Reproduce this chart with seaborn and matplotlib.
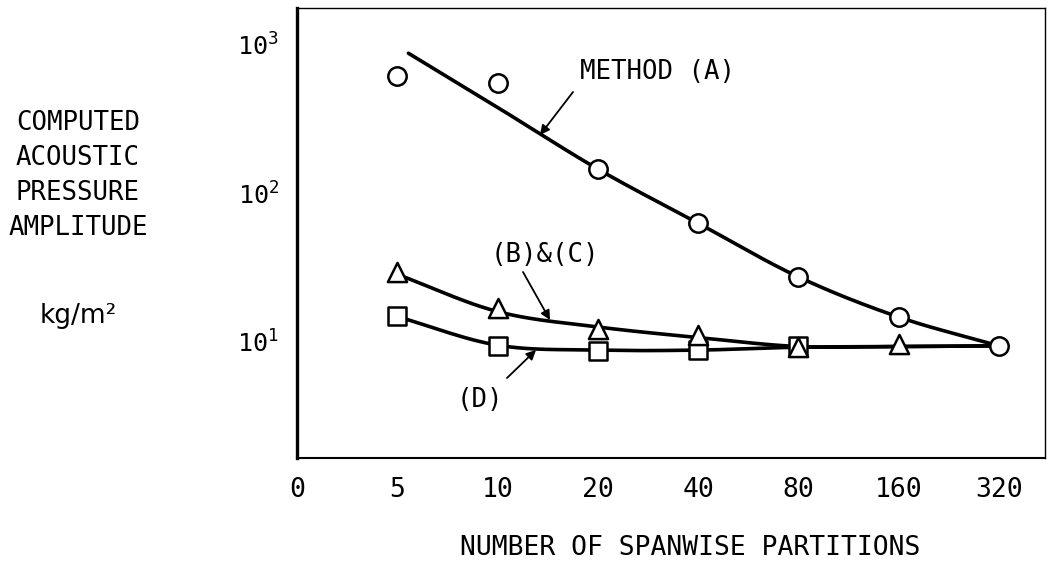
import numpy as np
import pandas as pd
import seaborn as sns
import matplotlib.pyplot as plt

partitions = [5, 10, 20, 40, 80, 160, 320]
method_a = [620, 555, 146, 63, 27.4, 14.7, 9.4]
method_bc = [29.6, 16.9, 12.2, 11.1, 9.25, 9.7]      # 5 ~ 160
method_d = [15.0, 9.4, 8.7, 8.8, 9.4]                 # 5 ~ 80

# 곡선이 지나는 점
curve_a_n = [5.4, 10, 20, 40, 80, 160, 320]
curve_a = [880, 380, 146, 63, 27.4, 14.7, 9.4]
curve_bc = [28.5, 16.0, 12.6, 10.7, 9.3, 9.3, 9.4]
curve_d = [14.8, 9.5, 8.8, 8.8, 9.2, 9.3, 9.4]

x_labels = ['0', '5', '10', '20', '40', '80', '160', '320']
y_ticks = [10, 100, 1000]


def smooth(xs, ys, steps=25):
    # log-log 공간에서 catmull-rom 으로 매끈하게
    p = np.column_stack([np.log2(xs), np.log10(ys)])
    p = np.vstack([2 * p[0] - p[1], p, 2 * p[-1] - p[-2]])
    out = []
    t = np.linspace(0, 1, steps, endpoint=False)[:, None]
    for i in range(1, len(p) - 2):
        p0, p1, p2, p3 = p[i - 1], p[i], p[i + 1], p[i + 2]
        out.append(0.5 * (2 * p1 + (-p0 + p2) * t
                          + (2 * p0 - 5 * p1 + 4 * p2 - p3) * t ** 2
                          + (-p0 + 3 * p1 - 3 * p2 + p3) * t ** 3))
    out.append(p[-2][None, :])
    out = np.vstack(out)
    return pd.DataFrame({'n': 2 ** out[:, 0], 'v': 10 ** out[:, 1]})


sns.set_style('white')
plt.rcParams['font.family'] = ['DejaVu Sans Mono', 'DejaVu Sans']
plt.rcParams['mathtext.default'] = 'regular'
plt.rcParams['text.color'] = 'black'
plt.rcParams['xtick.color'] = 'black'
plt.rcParams['ytick.color'] = 'black'

W, H = 1047, 565
fig = plt.figure(figsize=(W / 100, H / 100), dpi=100)
ax = fig.add_axes([297 / W, 1 - 458 / H, (1045 - 297) / W, (458 - 8) / H])
ax.set_xscale('log', base=2)
ax.set_yscale('log')

# 곡선
for xs, ys in [(curve_a_n, curve_a), (partitions, curve_bc), (partitions, curve_d)]:
    sns.lineplot(data=smooth(xs, ys), x='n', y='v', sort=False, estimator=None,
                 color='black', lw=2.6, ax=ax, zorder=2)

# 마커
mk = dict(color='white', edgecolor='black', linewidth=1.8, ax=ax, zorder=3)
sns.scatterplot(x=partitions, y=method_a, marker='o', s=175, **mk)
sns.scatterplot(x=partitions[:5], y=method_d, marker='s', s=150, **mk)
sns.scatterplot(x=partitions[:6], y=method_bc, marker='^', s=190, **mk)

ax.set_xlim(2.5, 320 * 2 ** 0.46)
ax.set_ylim(1.65, 1775)
ax.set_xticks([2.5] + partitions)
ax.set_xticklabels(x_labels, fontsize=19)
ax.set_yticks(y_ticks)
ax.set_yticklabels([r'$10^{%d}$' % i for i in (1, 2, 3)], fontsize=18)
ax.minorticks_off()
ax.tick_params(axis='x', direction='in', length=16, width=2, pad=14)
ax.tick_params(axis='y', direction='in', length=17, width=2.5, pad=13)
ax.set_xlabel('')
ax.set_ylabel('')

for side, lw in [('left', 2.4), ('bottom', 1.5), ('top', 1.0), ('right', 1.0)]:
    ax.spines[side].set_visible(True)
    ax.spines[side].set_color('black')
    ax.spines[side].set_linewidth(lw)

# 주석
arrow = dict(arrowstyle='-|>', color='black', lw=1.3, mutation_scale=14,
             shrinkA=0, shrinkB=0)
notes = [('METHOD (A)', (658, 72), (573, 92), (540, 135)),
         ('(B)&(C)', (545, 255), (523, 272), (550, 320)),
         ('(D)', (480, 400), (507, 378), (536, 350))]
for txt, tp, a0, a1 in notes:
    fig.text(tp[0] / W, 1 - tp[1] / H, txt, fontsize=18.5, ha='center', va='center')
    ax.annotate('', xy=(a1[0], H - a1[1]), xytext=(a0[0], H - a0[1]),
                xycoords='figure pixels', textcoords='figure pixels',
                arrowprops=arrow)

# 축 제목
fig.text(690 / W, 1 - 548 / H, 'NUMBER OF SPANWISE PARTITIONS',
         fontsize=19, ha='center', va='center')
for i, line in enumerate(['COMPUTED', 'ACOUSTIC', 'PRESSURE', 'AMPLITUDE']):
    fig.text(78 / W, 1 - (123 + 35 * i) / H, line, fontsize=18.5,
             ha='center', va='center')
fig.text(78 / W, 1 - 316 / H, 'kg/m²', fontsize=19, ha='center', va='center',
         family=['DejaVu Sans'])

fig.savefig('out.png', dpi=100)
